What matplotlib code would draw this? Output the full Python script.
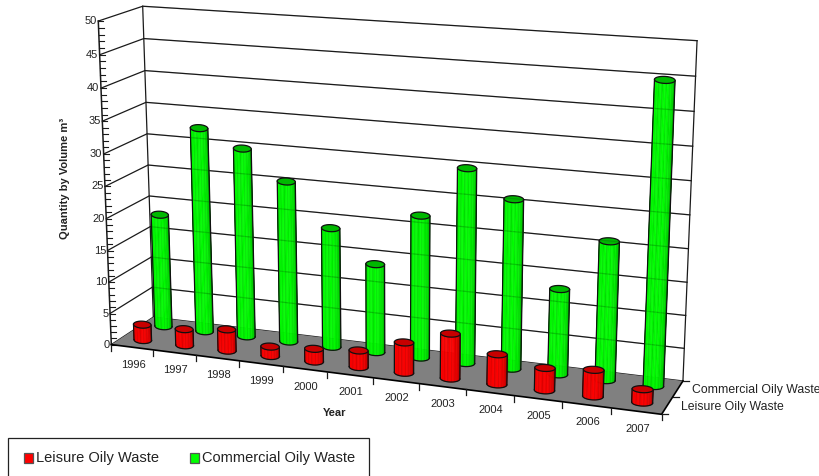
import numpy as np
import matplotlib
matplotlib.use('Agg')
import matplotlib.pyplot as plt
from matplotlib.collections import PolyCollection
from matplotlib.patches import Rectangle

plt.rcParams['font.family'] = ['Liberation Sans', 'DejaVu Sans']

years = [1996, 1997, 1998, 1999, 2000, 2001, 2002, 2003, 2004, 2005, 2006, 2007]
leisure = [2.5, 2.6, 3.4, 1.5, 2.0, 2.6, 4.7, 6.9, 4.6, 3.4, 4.0, 2.0]
commercial = [18.2, 32.5, 29.9, 25.4, 18.8, 13.9, 22.1, 29.9, 25.9, 13.1, 21.0, 44.9]
value_ticks = [0, 5, 10, 15, 20, 25, 30, 35, 40, 45, 50]
ymax = 50.0

# camera fitted to the corners of the chart box: (across, depth, height) -> pixel
corners = [
    (0, 0, 0, 112, 345), (0, 1, 0, 153, 317), (1, 0, 0, 662, 414), (1, 1, 0, 683, 381),
    (0, 0, 1, 98, 21), (0, 1, 1, 143, 6), (1, 1, 1, 697, 41), (0.5, 0, 0, 372, 377.6),
]
rows = []
for a, b, c, px, py in corners:
    px, py = px / 100, py / 100
    rows.append([a, b, c, 1, 0, 0, 0, 0, -px * a, -px * b, -px * c, -px])
    rows.append([0, 0, 0, 0, a, b, c, 1, -py * a, -py * b, -py * c, -py])
cam = np.linalg.svd(np.array(rows))[2][-1].reshape(3, 4)


def proj(u, d, val):
    h = cam @ np.array([u, d, val / ymax, 1.0])
    return np.array([h[0] / h[2] * 100, h[1] / h[2] * 100])


shades = [0.62, 0.72, 0.85, 0.97, 1.0, 0.92, 1.0, 0.86, 0.98, 1.0, 0.84, 0.96,
          1.0, 0.88, 1.0, 0.93, 0.84, 0.95, 0.8, 0.86, 0.74, 0.68, 0.6, 0.55]


def cylinder(ax, u, d, val, base, cap, z):
    bot = proj(u, d, 0)
    top = proj(u, d, val)
    a = np.linalg.norm(proj(u + 0.0175, d, 0) - proj(u - 0.0175, d, 0)) / 2
    b = 3.5
    tilt = np.radians(3)
    ex = np.array([np.cos(tilt), np.sin(tilt)]) * a
    ey = np.array([-np.sin(tilt), np.cos(tilt)]) * b
    ang = np.linspace(np.pi, 0, len(shades) + 1)
    polys, cols = [], []
    for i, s in enumerate(shades):
        e0 = ex * np.cos(ang[i]) + ey * np.sin(ang[i])
        e1 = ex * np.cos(ang[i + 1]) + ey * np.sin(ang[i + 1])
        polys.append([top + e0, top + e1, bot + e1, bot + e0])
        cols.append(np.clip(np.array(base) * s + (1 - s) * np.array(cap) * 0.15, 0, 1))
    ax.add_collection(PolyCollection(polys, facecolors=cols, edgecolors=cols, linewidths=0.4, zorder=z))
    t = np.linspace(0, 2 * np.pi, 60)
    ring = np.outer(np.cos(t), ex) + np.outer(np.sin(t), ey)
    front = np.linspace(np.pi, 0, 30)
    arc = np.outer(np.cos(front), ex) + np.outer(np.sin(front), ey)
    ax.plot(*(bot + arc).T, color='#101010', lw=0.9, zorder=z + 0.1)
    ax.plot([top[0] - ex[0], bot[0] - ex[0]], [top[1] - ex[1], bot[1] - ex[1]], color='#101010', lw=0.9, zorder=z + 0.1)
    ax.plot([top[0] + ex[0], bot[0] + ex[0]], [top[1] + ex[1], bot[1] + ex[1]], color='#101010', lw=0.9, zorder=z + 0.1)
    ax.fill(*(top + ring).T, facecolor=cap, edgecolor='#101010', lw=0.9, zorder=z + 0.2)


fig = plt.figure(figsize=(8.19, 4.76), dpi=100)
ax = fig.add_axes([0, 0, 1, 1])
ax.set_xlim(0, 819)
ax.set_ylim(476, 0)
ax.axis('off')

line = '#1a1a1a'
# floor
floor = [proj(0, 0, 0), proj(1, 0, 0), proj(1, 1, 0), proj(0, 1, 0)]
ax.fill(*np.array(floor).T, facecolor='#808080', edgecolor='none', zorder=1)

# walls and gridlines
for v in value_ticks:
    p = [proj(0, 0, v), proj(0, 1, v), proj(1, 1, v)]
    ax.plot(*np.array(p).T, color=line, lw=0.9, zorder=0.5)
    if v > 0:
        ax.plot(*np.array(p[1:]).T, color=line, lw=0.9, alpha=0.18, zorder=3)
ax.plot(*np.array([proj(0, 1, 0), proj(0, 1, ymax)]).T, color=line, lw=0.9, zorder=0.5)
ax.plot(*np.array([proj(1, 1, 0), proj(1, 1, ymax)]).T, color=line, lw=0.9, zorder=0.5)
ax.plot(*np.array([proj(0, 0, 0), proj(0, 0, ymax)]).T, color=line, lw=1.1, zorder=2)

# value axis ticks and labels
for v in range(0, 51):
    p = proj(0, 0, v)
    ax.plot([p[0], p[0] + 5], [p[1], p[1]], color=line, lw=0.8, zorder=2)
    if v in value_ticks:
        ax.text(p[0] - 1.5, p[1], str(v), ha='right', va='center', fontsize=8, color='#222222')

# front edge, depth edge and ticks
ax.plot(*np.array([proj(0, 0, 0), proj(1, 0, 0), proj(1, 1, 0)]).T, color='#000000', lw=1.2, zorder=2)
n = len(years)
for k in range(n + 1):
    p = proj(k / n, 0, 0)
    ax.plot([p[0], p[0]], [p[1], p[1] + 6], color=line, lw=0.9, zorder=2)
for d in (0, 0.5, 1):
    p = proj(1, d, 0)
    ax.plot([p[0], p[0] + 6], [p[1], p[1]], color=line, lw=0.9, zorder=2)

# bars, back row first
for i in range(n):
    cylinder(ax, (i + 0.5) / n, 0.75, commercial[i], (0.0, 1.0, 0.0), (0.0, 0.72, 0.0), 2.5)
for i in range(n):
    cylinder(ax, (i + 0.5) / n, 0.25, leisure[i], (1.0, 0.0, 0.0), (0.78, 0.0, 0.0), 4)

# text
for i, yr in enumerate(years):
    p = proj((i + 0.5) / n, 0, 0)
    ax.text(p[0] + 1, p[1] + 17.5, str(yr), ha='center', va='center', fontsize=8, color='#222222')
ax.text(681, 407, 'Leisure Oily Waste', ha='left', va='center', fontsize=8.8, color='#222222')
ax.text(692, 390, 'Commercial Oily Waste', ha='left', va='center', fontsize=8.8, color='#222222')
ax.text(65, 178, 'Quantity by Volume m³', rotation=90, ha='center', va='center', fontsize=8, fontweight='bold', color='#222222')
ax.text(335, 413, 'Year', ha='center', va='center', fontsize=8, fontweight='bold', color='#222222')

# legend box
ax.add_patch(Rectangle((7.5, 437.5), 361, 45, facecolor='white', edgecolor='#222222', lw=0.9, zorder=5))
ax.add_patch(Rectangle((23.5, 453), 9.5, 9.5, facecolor='#ff0000', edgecolor='#555555', lw=0.9, zorder=6))
ax.add_patch(Rectangle((189.5, 453), 9.5, 9.5, facecolor='#00ff00', edgecolor='#555555', lw=0.9, zorder=6))
ax.text(36, 458, 'Leisure Oily Waste', ha='left', va='center', fontsize=10.5, color='#222222', zorder=6)
ax.text(202, 458, 'Commercial Oily Waste', ha='left', va='center', fontsize=10.5, color='#222222', zorder=6)

fig.savefig('out.png', dpi=100)
